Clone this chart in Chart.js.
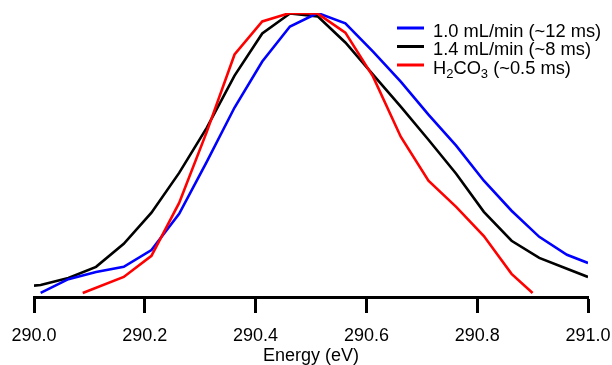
<!DOCTYPE html>
<html><head><meta charset="utf-8">
<script src="https://cdn.jsdelivr.net/npm/chart.js@4/dist/chart.umd.min.js"></script>
<style>html,body{margin:0;padding:0;background:#fff}</style>
</head><body>
<canvas id="c" width="612" height="365"></canvas>
<script>
// ---- data ----
const seriesLabels = ['1.0 mL/min (~12 ms)', '1.4 mL/min (~8 ms)', 'H₂CO₃ (~0.5 ms)'];
const seriesColors = ['#0000ff', '#000000', '#ff0000'];

const blueEnergy = [290.012, 290.062, 290.112, 290.162, 290.212, 290.262, 290.312, 290.362, 290.412, 290.462, 290.512, 290.562, 290.612, 290.662, 290.712, 290.762, 290.812, 290.862, 290.912, 290.962, 291.0];
const blueIntensity = [0.002, 0.051, 0.077, 0.095, 0.155, 0.284, 0.470, 0.663, 0.827, 0.952, 1.000, 0.963, 0.862, 0.755, 0.638, 0.527, 0.402, 0.295, 0.202, 0.138, 0.109];

const blackEnergy = [290.0, 290.012, 290.062, 290.112, 290.162, 290.212, 290.262, 290.312, 290.362, 290.412, 290.462, 290.512, 290.562, 290.612, 290.662, 290.712, 290.762, 290.812, 290.862, 290.912, 290.962, 291.0];
const blackIntensity = [0.028, 0.030, 0.055, 0.095, 0.177, 0.288, 0.430, 0.591, 0.777, 0.927, 0.998, 0.988, 0.895, 0.780, 0.666, 0.548, 0.427, 0.291, 0.188, 0.127, 0.088, 0.059];

const redEnergy = [290.088, 290.162, 290.212, 290.262, 290.312, 290.362, 290.412, 290.462, 290.512, 290.562, 290.612, 290.662, 290.712, 290.762, 290.812, 290.862, 290.900];
const redIntensity = [0.002, 0.059, 0.134, 0.323, 0.577, 0.852, 0.970, 1.000, 0.998, 0.930, 0.773, 0.559, 0.402, 0.309, 0.205, 0.070, 0.002];

const xTickValues = [290.0, 290.2, 290.4, 290.6, 290.8, 291.0];
const xTitle = 'Energy (eV)';

// ---- build ----
const zip = (xs, ys) => xs.map((x, i) => ({x: x, y: ys[i]}));
const FONT = 'Liberation Sans, Arial, Helvetica, sans-serif';
const SUBS = '₀₁₂₃₄₅₆₇₈₉';

function drawRich(ctx, text, x, y) {
  let cx = x;
  ctx.textBaseline = 'alphabetic';
  ctx.textAlign = 'left';
  for (const ch of text) {
    const si = SUBS.indexOf(ch);
    if (si >= 0) {
      ctx.font = '13px ' + FONT;
      const d = String(si);
      ctx.fillText(d, cx, y + 4);
      cx += ctx.measureText(d).width;
    } else {
      ctx.font = '18.3px ' + FONT;
      ctx.fillText(ch, cx, y);
      cx += ctx.measureText(ch).width;
    }
  }
}

const legendPlugin = {
  id: 'customLegend',
  afterDraw(chart) {
    const ctx = chart.ctx;
    chart.data.datasets.forEach((ds, i) => {
      const y = 28 + 18.5 * i;
      ctx.save();
      ctx.strokeStyle = ds.borderColor;
      ctx.lineWidth = 3;
      ctx.beginPath(); ctx.moveTo(397, y); ctx.lineTo(424, y); ctx.stroke();
      ctx.fillStyle = '#000';
      drawRich(ctx, ds.label, 433, y + 8.5);
      ctx.restore();
    });
  }
};

const energies = [blueEnergy, blackEnergy, redEnergy];
const intens = [blueIntensity, blackIntensity, redIntensity];
const orders = [2, 3, 1];

new Chart(document.getElementById('c'), {
  type: 'line',
  data: {
    datasets: seriesLabels.map((lab, i) => ({
      label: lab,
      data: zip(energies[i], intens[i]),
      borderColor: seriesColors[i],
      backgroundColor: seriesColors[i],
      borderWidth: 2.6,
      pointRadius: 0,
      tension: 0,
      fill: false,
      order: orders[i]
    }))
  },
  options: {
    responsive: false,
    animation: false,
    devicePixelRatio: 1,
    layout: {padding: {left: 34, right: 24, top: 13, bottom: 0}},
    plugins: {legend: {display: false}, tooltip: {enabled: false}},
    scales: {
      x: {
        type: 'linear', min: 290, max: 291,
        afterBuildTicks(scale) { scale.ticks = xTickValues.map(v => ({value: v})); },
        ticks: {
          callback: v => Number(v).toFixed(1),
          font: {family: FONT, size: 18}, color: '#000',
          padding: 12, maxRotation: 0, autoSkip: false
        },
        grid: {drawOnChartArea: false, drawTicks: true, tickLength: 16, tickWidth: 3, tickColor: '#000'},
        border: {display: true, color: '#000', width: 3},
        title: {display: true, text: xTitle, font: {family: FONT, size: 18}, color: '#000', padding: {top: 0, bottom: -2}},
        afterFit(scale) { scale.height = 68; scale.paddingLeft = 0; scale.paddingRight = 0; }
      },
      y: {display: false, min: -0.0125, max: 1.0}
    }
  },
  plugins: [legendPlugin]
});
</script>
</body></html>
